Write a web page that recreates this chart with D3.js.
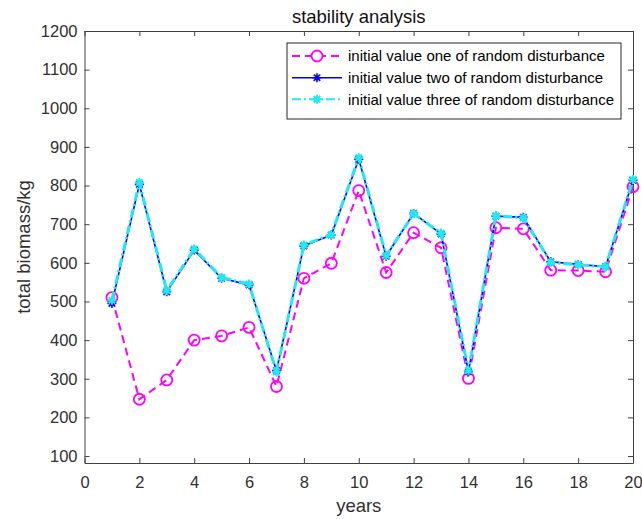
<!DOCTYPE html>
<html>
<head>
<meta charset="utf-8">
<script src="https://cdn.jsdelivr.net/npm/d3@7"></script>
<style>
  html, body { margin: 0; padding: 0; background: #fff; }
  svg { display: block; font-family: "Liberation Sans", Arial, Helvetica, sans-serif; }
</style>
</head>
<body>
<svg id="chart" width="642" height="519"></svg>
<script>
// Simulated total biomass per year for three random-disturbance starting values
const years = [1, 2, 3, 4, 5, 6, 7, 8, 9, 10, 11, 12, 13, 14, 15, 16, 17, 18, 19, 20];
const initialValueOne   = [510, 247, 297, 400, 411, 433, 280, 560, 599, 787, 575, 678, 639, 301, 691, 688, 581, 580, 577, 797];
const initialValueTwo   = [495, 803, 525, 633, 560, 543, 321, 644, 672, 868, 617, 728, 675, 318, 721, 718, 603, 596, 590, 814];
const initialValueThree = [503, 808, 528, 636, 562, 545, 318, 646, 673, 872, 619, 727, 677, 321, 722, 716, 601, 595, 590, 816];

const xTicks = [0, 2, 4, 6, 8, 10, 12, 14, 16, 18, 20];
const yTicks = [100, 200, 300, 400, 500, 600, 700, 800, 900, 1000, 1100, 1200];
const seriesNames = [
  "initial value one of random disturbance",
  "initial value two of random disturbance",
  "initial value three of random disturbance"
];

const svg = d3.select("#chart");
const plot = { left: 84.5, right: 633, top: 31, bottom: 463 };

const x = d3.scaleLinear().domain([0, 20]).range([plot.left, plot.right]);
const y = d3.scaleLinear().domain([82, 1200]).range([plot.bottom, plot.top]);

const axisColor = "#404040";
const plain = d3.format("d");

function styleAxis(g) {
  g.selectAll("path.domain").attr("stroke", axisColor).attr("stroke-width", 1);
  g.selectAll(".tick line").attr("stroke", axisColor);
  g.selectAll(".tick text").attr("fill", "#303030").attr("font-size", 16.5);
}

// Box axes with inward ticks on all four sides
svg.append("g").attr("transform", `translate(0,${plot.bottom})`)
  .call(d3.axisBottom(x).tickValues(xTicks).tickFormat(plain).tickSize(-5).tickSizeOuter(0).tickPadding(13))
  .call(styleAxis);
svg.append("g").attr("transform", `translate(0,${plot.top})`)
  .call(d3.axisTop(x).tickValues(xTicks).tickSize(-5).tickSizeOuter(0).tickFormat(""))
  .call(styleAxis);
svg.append("g").attr("transform", `translate(${plot.left},0)`)
  .call(d3.axisLeft(y).tickValues(yTicks).tickFormat(plain).tickSize(-5).tickSizeOuter(0).tickPadding(7))
  .call(styleAxis);
svg.append("g").attr("transform", `translate(${plot.right},0)`)
  .call(d3.axisRight(y).tickValues(yTicks).tickSize(-5).tickSizeOuter(0).tickFormat(""))
  .call(styleAxis);

svg.selectAll("g").attr("font-family", null);

// Title and axis labels
svg.append("text")
  .attr("x", (plot.left + plot.right) / 2).attr("y", 23)
  .attr("text-anchor", "middle").attr("font-size", 18.5).attr("fill", "#111")
  .text("stability analysis");
svg.append("text")
  .attr("x", (plot.left + plot.right) / 2).attr("y", 512)
  .attr("text-anchor", "middle").attr("font-size", 18.5).attr("fill", "#303030")
  .text("years");
svg.append("text")
  .attr("transform", `translate(30,${(plot.top + plot.bottom) / 2}) rotate(-90)`)
  .attr("text-anchor", "middle").attr("font-size", 18.5).attr("fill", "#303030")
  .text("total biomass/kg");

// Marker shapes
function asterisk(s) {
  const d = 0.72 * s;
  return `M${-s},0L${s},0M0,${-s}L0,${s}M${-d},${-d}L${d},${d}M${-d},${d}L${d},${-d}`;
}

const line = d3.line().x((d, i) => x(years[i])).y(d => y(d));

const series = [
  { values: initialValueOne, color: "#ff00ff", width: 2, dash: "8,5", marker: "circle", mw: 1.8 },
  { values: initialValueTwo, color: "#0000ee", width: 1.6, dash: null, marker: "asterisk", mw: 1.6 },
  { values: initialValueThree, color: "#22e8f0", width: 3, dash: "9,3,2,3", marker: "asterisk", mw: 2 }
];

series.forEach(s => {
  const g = svg.append("g");
  g.append("path").datum(s.values)
    .attr("d", line)
    .attr("fill", "none")
    .attr("stroke", s.color)
    .attr("stroke-width", s.width)
    .attr("stroke-dasharray", s.dash);
  if (s.marker === "circle") {
    g.selectAll("circle").data(s.values).join("circle")
      .attr("cx", (d, i) => x(years[i])).attr("cy", d => y(d))
      .attr("r", 5.5).attr("fill", "none")
      .attr("stroke", s.color).attr("stroke-width", s.mw);
  } else {
    g.selectAll("path.m").data(s.values).join("path").attr("class", "m")
      .attr("transform", (d, i) => `translate(${x(years[i])},${y(d)})`)
      .attr("d", asterisk(4.5)).attr("fill", "none")
      .attr("stroke", s.color).attr("stroke-width", s.mw);
  }
});

// Legend
const legend = svg.append("g");
legend.append("rect")
  .attr("x", 287).attr("y", 43).attr("width", 334).attr("height", 76)
  .attr("fill", "#fff").attr("stroke", "#262626").attr("stroke-width", 1);
const rowY = [56, 77.7, 99.3];
series.forEach((s, i) => {
  const gy = rowY[i];
  legend.append("line")
    .attr("x1", 292).attr("x2", 342).attr("y1", gy).attr("y2", gy)
    .attr("stroke", s.color).attr("stroke-width", Math.min(s.width, 2))
    .attr("stroke-dasharray", s.dash);
  if (s.marker === "circle") {
    legend.append("circle").attr("cx", 317).attr("cy", gy).attr("r", 5.5)
      .attr("fill", "#fff").attr("stroke", s.color).attr("stroke-width", s.mw);
  } else {
    legend.append("path").attr("transform", `translate(317,${gy})`)
      .attr("d", asterisk(4.5)).attr("fill", "none")
      .attr("stroke", s.color).attr("stroke-width", s.mw);
  }
  legend.append("text")
    .attr("x", 348).attr("y", gy).attr("dy", "0.35em")
    .attr("font-size", 15).attr("fill", "#000")
    .text(seriesNames[i]);
});
</script>
</body>
</html>
